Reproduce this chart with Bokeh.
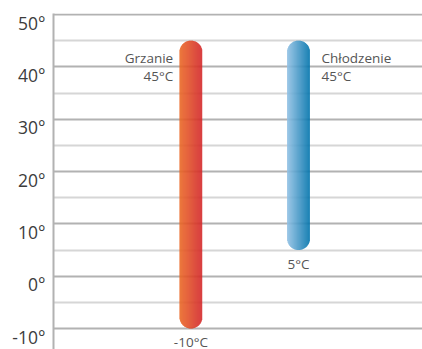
import numpy as np
from bokeh.plotting import figure
from bokeh.models import Range1d, LinearAxis, FixedTicker, Grid, ColumnDataSource
from bokeh.embed import file_html
from bokeh.resources import INLINE
from bokeh.core.properties import value

# ---- data ----
modes = ["Grzanie", "Chłodzenie"]
temp_max = [45, 45]
temp_min = [-10, 5]
max_labels = ["45°C", "45°C"]
min_labels = ["-10°C", "5°C"]
y_ticks = [-10, 0, 10, 20, 30, 40, 50]
y_tick_labels = ["-10°", "0°", "10°", "20°", "30°", "40°", "50°"]
y_minor = [-5, 5, 15, 25, 35, 45]

# ---- layout / style ----
W, H = 422, 349
LEFT, TOP = 53, 13
PPD = 314 / 60.0                      # pixels per degree
Y_END = 50 + 1 / PPD
Y_START = Y_END - (H - TOP) / PPD
bar_x = [137.4, 245.0]                 # bar centres in frame pixels
bar_w = 22.6
grad = [("#EA6A28", "#D42A2C"), ("#92C1E4", "#0575AD")]
FONT = "Open Sans"

p = figure(width=W, height=H, x_range=Range1d(0, W - LEFT),
           y_range=Range1d(Y_START, Y_END),
           x_axis_location=None, y_axis_location=None,
           toolbar_location=None, output_backend="svg",
           min_border_left=LEFT, min_border_right=0,
           min_border_top=TOP, min_border_bottom=0)
p.outline_line_color = None
p.background_fill_color = "white"
p.center = []

# grids
minor_grid = Grid(dimension=1, ticker=FixedTicker(ticks=y_minor),
                  grid_line_color="#d6d6d6", grid_line_width=2)
major_grid = Grid(dimension=1, ticker=FixedTicker(ticks=y_ticks),
                  grid_line_color="#b2b2b2", grid_line_width=2)
p.add_layout(minor_grid)
p.add_layout(major_grid)

# axis with labels shifted slightly below the lines
shift = 8 / PPD
p.extra_y_ranges = {"lbl": Range1d(Y_START + shift, Y_END + shift)}
ax = LinearAxis(y_range_name="lbl", ticker=FixedTicker(ticks=y_ticks))
ax.major_label_overrides = {t: l for t, l in zip(y_ticks, y_tick_labels)}
ax.axis_line_color = "#b2b2b2"
ax.axis_line_width = 2
ax.major_tick_line_color = None
ax.minor_tick_line_color = None
ax.major_tick_out = 0
ax.major_tick_in = 0
ax.major_label_standoff = 8
ax.major_label_text_font = FONT
ax.major_label_text_font_size = "17.5px"
ax.major_label_text_font_style = "normal"
ax.major_label_text_color = "#3c3c3c"
p.add_layout(ax, "left")


def hex2rgb(h):
    h = h.lstrip("#")
    return np.array([int(h[i:i + 2], 16) for i in (0, 2, 4)], dtype=float)


# gradient bars built from thin strips with rounded ends
sub = 0.5
xs, tops, bots, cols = [], [], [], []
r = bar_w / 2
n = int(round(bar_w / sub))
for cx, tmax, tmin, (c0, c1) in zip(bar_x, temp_max, temp_min, grad):
    a, b = hex2rgb(c0), hex2rgb(c1)
    for i in range(n):
        dx = -r + sub * (i + 0.5)
        depth = r - np.sqrt(max(r * r - dx * dx, 0.0))
        t = i / (n - 1)
        c = a + (b - a) * t
        xs.append(cx + dx)
        tops.append(tmax - depth / PPD)
        bots.append(tmin + depth / PPD)
        cols.append("#%02x%02x%02x" % tuple(int(round(v)) for v in c))

p.vbar(x=xs, width=sub * 1.5, top=tops, bottom=bots,
       fill_color=cols, line_color=None)

# labels
lbl_src = ColumnDataSource(dict(
    x=bar_x, tmax=temp_max, tmin=temp_min, name=modes,
    maxl=max_labels, minl=min_labels,
    lx=[bar_x[0] - 17.7, bar_x[1] + 23.0],
    al=["right", "left"]))

common = dict(text_font=value(FONT), text_font_size="13.5px",
              text_color="#555555", source=lbl_src)
p.text(x="lx", y="tmax", text="name", text_align="al",
       text_baseline="middle", y_offset=17, **common)
p.text(x="lx", y="tmax", text="maxl", text_align="al",
       text_baseline="middle", y_offset=35, **common)
p.text(x="x", y="tmin", text="minl", text_align="center",
       text_baseline="middle", y_offset=13.5, **common)

open("out.html", "w").write(file_html(p, INLINE))
